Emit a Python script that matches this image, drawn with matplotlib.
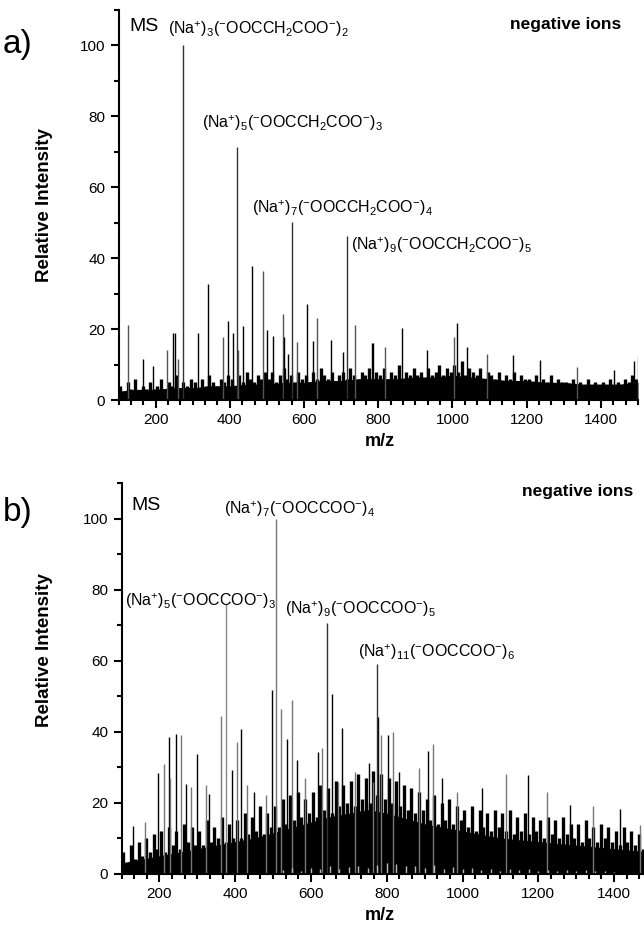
import numpy as np
import matplotlib
matplotlib.use('Agg')
import matplotlib.pyplot as plt
from matplotlib.ticker import MultipleLocator

plt.rcParams['font.family'] = ['Liberation Sans', 'DejaVu Sans']
plt.rcParams['mathtext.default'] = 'regular'

# Panel a: malonate clusters
a_label_mz = [274, 420, 568, 716]
a_label_int = [100, 71.5, 50.2, 46.2]
a_peak_mz = [126, 165, 194, 230, 248, 252, 261, 313, 341, 382, 396, 409, 423, 436,
             461, 490, 501, 517, 542, 545, 557, 582, 609, 624, 635, 673, 704, 737,
             783, 787, 818, 865, 931, 1003, 1012, 1039, 1092, 1163, 1236, 1335,
             1434, 1488, 1499]
a_peak_int = [21.1, 11.7, 9.6, 14, 19, 18.8, 11.7, 19, 32.6, 17.8, 22.3, 19, 14, 20.8,
              37.7, 36.4, 19.7, 18.1, 24.2, 17.8, 13, 16.4, 27, 16.7, 23, 16.9, 13.6, 21.1,
              16, 16, 15, 20.2, 14, 17.8, 21.6, 15, 13, 12.7, 11.3, 9.4,
              8.5, 11, 12.2]
# dense baseline, every 50 m/z from 100 to 1500
a_floor = [2.5, 3, 3, 3.5, 3.5, 4, 4, 4.5, 4.5, 5, 5, 5.5, 5.5, 6, 6, 6, 6.5, 6.5,
           7, 6.5, 6, 5.5, 5.5, 5, 5, 4.5, 4.5, 4.5, 5]
# noise spikes, every 10 m/z from 105 to 1495
a_noise = [4, 2, 5, 3, 6, 2, 4, 3, 5, 3,
           4, 6, 3, 5, 4, 7, 3, 5, 4, 6,
           5, 3, 6, 4, 7, 5, 4, 6, 5, 7,
           6, 4, 7, 5, 8, 6, 5, 7, 6, 8,
           6, 8, 5, 7, 9, 6, 7, 5, 8, 6,
           7, 5, 8, 6, 9, 7, 6, 8, 5, 7,
           8, 6, 9, 7, 6, 8, 7, 9, 6, 8,
           7, 9, 6, 8, 7, 10, 6, 8, 7, 9,
           7, 8, 6, 9, 7, 8, 10, 7, 9, 8,
           10, 8, 11, 7, 9, 8, 7, 9, 6, 8,
           7, 6, 8, 5, 7, 6, 8, 5, 7, 6,
           6, 5, 7, 4, 6, 5, 7, 4, 6, 5,
           5, 4, 6, 3, 5, 4, 6, 4, 5, 3,
           5, 4, 6, 3, 5, 4, 6, 5, 7, 6]

# Panel b: oxalate clusters
b_label_mz = [376, 508, 642, 775]
b_label_int = [75.8, 100, 70.7, 58.9]
b_peak_mz = [131, 162, 197, 212, 225, 229, 244, 257, 270, 283, 300, 323, 330, 362,
             391, 404, 415, 430, 450, 482, 496, 522, 536, 549, 562, 584, 619, 628,
             655, 672, 681, 716, 754, 763, 776, 786, 804, 817, 833, 886, 909, 921,
             945, 985, 1052, 1114, 1173, 1222, 1283, 1345, 1415, 1468]
b_peak_int = [13.3, 14.5, 28.4, 30.8, 38.4, 27, 39.2, 39, 25.2, 24.4, 33.8, 24.9, 22.3, 44.4,
              29.2, 37, 40.7, 24.9, 23, 22, 51.8, 46.4, 38, 48.8, 32, 27, 34.3, 35.3,
              50.6, 25.8, 41, 28.7, 31, 25.8, 44, 39, 39, 40, 28.7, 29.6, 34.5, 36.4,
              26.8, 23, 24, 28, 27.7, 23, 19.2, 19, 18.3, 13.6]
b_floor = [3, 4, 5, 6, 7, 8, 9, 10, 11.5, 13, 14.5, 16, 17, 18, 17, 15.5, 14,
           13, 12, 11, 10, 9.5, 9, 8.5, 8, 7.5, 7, 6.5, 6]
b_noise = [6, 3, 8, 4, 9, 5, 10, 6, 11, 7,
           12, 6, 13, 8, 12, 7, 14, 9, 13, 8,
           12, 8, 15, 9, 13, 10, 16, 9, 14, 10,
           15, 10, 17, 11, 16, 12, 19, 11, 17, 13,
           19, 13, 21, 14, 22, 15, 23, 16, 21, 17,
           23, 16, 25, 18, 24, 17, 26, 19, 25, 20,
           26, 19, 28, 21, 27, 20, 29, 22, 28, 21,
           27, 20, 26, 19, 25, 18, 24, 17, 23, 18,
           21, 15, 22, 14, 20, 15, 21, 14, 19, 15,
           18, 13, 19, 12, 18, 13, 17, 12, 18, 13,
           17, 12, 18, 11, 16, 12, 17, 11, 16, 12,
           15, 10, 16, 11, 15, 10, 16, 11, 14, 10,
           14, 9, 15, 10, 13, 9, 14, 10, 13, 9,
           12, 8, 13, 9, 12, 8, 11, 7, 12, 8]
# faint grey trace at the very bottom of panel b, every 25 m/z from 525 to 1400
b_low = [1, 1.5, 0.8, 1.6, 1.2, 2, 1.4, 1.8, 2.2, 1.5, 2.4, 3, 2.6, 2, 2.2, 1.6, 2.5, 1.4,
         1.8, 1.2, 1.6, 1, 1.4, 0.8, 1.2, 1, 1.3, 0.8, 1.1, 0.7, 1, 0.6, 0.9, 0.6, 0.8, 0.5]

floor_mz = np.arange(100, 1501, 50)
noise_mz = np.arange(105, 1500, 10)
low_mz = np.arange(525, 1401, 25)

a_labels = [r'(Na$^{+}$)$_{3}$($^{-}$OOCCH$_{2}$COO$^{-}$)$_{2}$',
            r'(Na$^{+}$)$_{5}$($^{-}$OOCCH$_{2}$COO$^{-}$)$_{3}$',
            r'(Na$^{+}$)$_{7}$($^{-}$OOCCH$_{2}$COO$^{-}$)$_{4}$',
            r'(Na$^{+}$)$_{9}$($^{-}$OOCCH$_{2}$COO$^{-}$)$_{5}$']
a_label_pos = [(233, 104.5), (324, 78.2), (459, 54.0), (726, 43.6)]
b_labels = [r'(Na$^{+}$)$_{5}$($^{-}$OOCCOO$^{-}$)$_{3}$',
            r'(Na$^{+}$)$_{7}$($^{-}$OOCCOO$^{-}$)$_{4}$',
            r'(Na$^{+}$)$_{9}$($^{-}$OOCCOO$^{-}$)$_{5}$',
            r'(Na$^{+}$)$_{11}$($^{-}$OOCCOO$^{-}$)$_{6}$']
b_label_pos = [(109, 76.8), (370, 102.7), (531, 74.4), (725, 62.4)]

W, H = 644, 932
fig = plt.figure(figsize=(W / 100, H / 100), dpi=100)


def px_axes(x0, y0, x1, y1):
    return fig.add_axes([x0 / W, 1 - y1 / H, (x1 - x0) / W, (y1 - y0) / H])


def style(ax):
    ax.set_xlim(100, 1500)
    ax.set_ylim(0, 110)
    for s in ['top', 'right']:
        ax.spines[s].set_visible(False)
    for s in ['left', 'bottom']:
        ax.spines[s].set_linewidth(1.5)
    ax.xaxis.set_major_locator(MultipleLocator(200))
    ax.xaxis.set_minor_locator(MultipleLocator(200 / 6))
    ax.yaxis.set_major_locator(MultipleLocator(20))
    ax.yaxis.set_minor_locator(MultipleLocator(10))
    ax.tick_params(which='major', length=6, width=1.5, labelsize=11, direction='out')
    ax.tick_params(which='minor', length=3.5, width=1.5, direction='out')


def draw(ax, floor, noise, pk_mz, pk_int, lab_mz, lab_int, colors, lab_colors):
    ax.fill_between(floor_mz, 0, floor, color='black', lw=0)
    ax.vlines(noise_mz, 0, noise, colors='black', lw=2.4)
    ax.vlines(pk_mz, 0, pk_int, colors=colors, lw=1.0)
    ax.vlines(lab_mz, 0, lab_int, colors=lab_colors, lw=1.0)


# panel a
ax1 = px_axes(118.5, 10, 638, 400)
style(ax1)
draw(ax1, a_floor, a_noise, a_peak_mz, a_peak_int, a_label_mz, a_label_int,
     ['black' if i % 3 else '#555555' for i in range(len(a_peak_mz))], '#333333')
ax1.text(128, 105.3, 'MS', fontsize=14, va='center')
for t, (x, y) in zip(a_labels, a_label_pos):
    ax1.text(x, y, t, fontsize=11.5, va='center')
ax1.text(1456, 105.8, 'negative ions', fontsize=12.5, fontweight='bold', va='center', ha='right')

# panel b
ax2 = px_axes(121.5, 483, 652, 873.5)
style(ax2)
draw(ax2, b_floor, b_noise, b_peak_mz, b_peak_int, b_label_mz, b_label_int,
     ['#777777' if i % 2 else 'black' for i in range(len(b_peak_mz))],
     ['#888888', '#777777', '#333333', '#333333'])
ax2.vlines(low_mz, 0, b_low, colors='#bbbbbb', lw=1.0)
ax2.text(127, 103.7, 'MS', fontsize=14, va='center')
for t, (x, y) in zip(b_labels, b_label_pos):
    ax2.text(x, y, t, fontsize=11.5, va='center')
ax2.text(1450, 107.5, 'negative ions', fontsize=12.5, fontweight='bold', va='center', ha='right')

# axis titles and panel letters
for yc in [205, 650]:
    fig.text(45 / W, 1 - yc / H, 'Relative Intensity', rotation=90, fontsize=13.5,
             fontweight='bold', ha='center', va='center')
for yc in [442, 915]:
    fig.text(380 / W, 1 - yc / H, 'm/z', fontsize=13, fontweight='bold', ha='center', va='center')
fig.text(3 / W, 1 - 45 / H, 'a)', fontsize=24, va='center')
fig.text(3 / W, 1 - 512 / H, 'b)', fontsize=24, va='center')

fig.savefig('out.png', dpi=100)
